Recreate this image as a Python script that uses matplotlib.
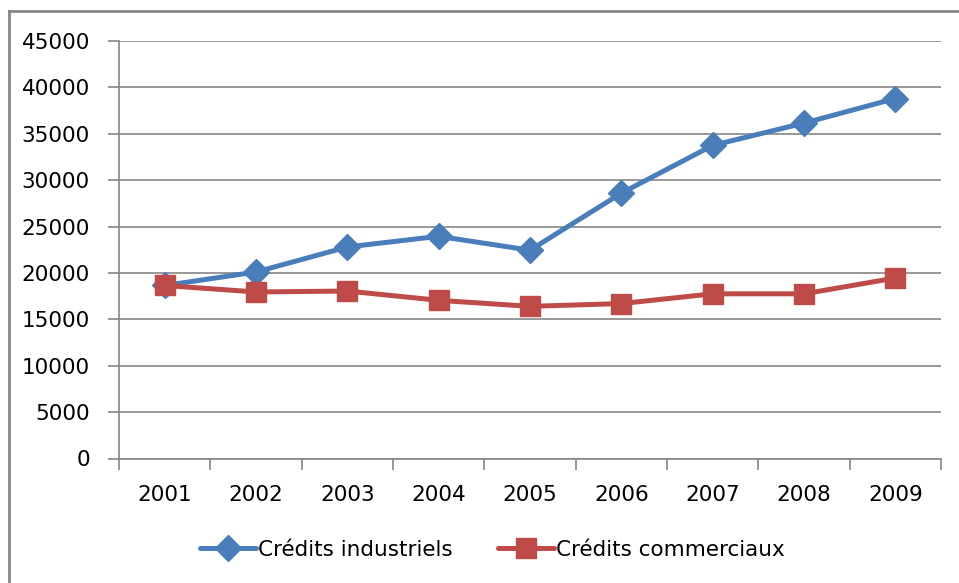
import matplotlib
matplotlib.use("Agg")
import matplotlib.pyplot as plt
from matplotlib.lines import Line2D
import numpy as np

annees = ["2001", "2002", "2003", "2004", "2005", "2006", "2007", "2008", "2009"]
industriels = [18650, 20100, 22800, 23950, 22450, 28600, 33750, 36150, 38800]
commerciaux = [18650, 17950, 18050, 17050, 16400, 16700, 17750, 17750, 19450]

plt.rcParams['font.family'] = ['DejaVu Sans']
gris = "#868686"

fig = plt.figure(figsize=(9.59, 5.83), dpi=100)
ax = fig.add_axes([119/959, 1 - 458.5/583, (941 - 119)/959, (458.5 - 41)/583])

x = np.arange(len(annees))
ax.plot(x, industriels, color="#4A7EBB", lw=3.6, marker="D", ms=13,
        label="Crédits industriels", solid_capstyle="round")
ax.plot(x, commerciaux, color="#BE4B48", lw=3.6, marker="s", ms=15,
        label="Crédits commerciaux", solid_capstyle="round")

ax.set_xlim(-0.5, len(annees) - 0.5)
ax.set_ylim(0, 45000)
ax.set_yticks(np.arange(0, 45001, 5000))
ax.set_xticks(x)
ax.set_xticklabels(annees)
ax.set_xticks(np.arange(-0.5, len(annees)), minor=True)
ax.tick_params(axis="x", which="major", length=0, pad=19, labelsize=15.5)
ax.tick_params(axis="x", which="minor", length=8, color=gris, width=1.2)
ax.tick_params(axis="y", length=8, color=gris, width=1.2, pad=13, labelsize=15.5)
ax.grid(axis="y", color=gris, lw=1.2)
ax.set_axisbelow(True)
for s in ["top", "right"]:
    ax.spines[s].set_visible(False)
for s in ["left", "bottom"]:
    ax.spines[s].set_color(gris)
    ax.spines[s].set_linewidth(1.2)

fig.legend(loc="center", bbox_to_anchor=(492/959, 1 - 550/583), ncol=2,
           frameon=False, fontsize=15.5, handlelength=2.6, handletextpad=0.1,
           columnspacing=2.1)

# cadre gris autour du graphique
fig.add_artist(Line2D([9/959, 9/959], [0, 1 - 11/583], color=gris, lw=2, transform=fig.transFigure))
fig.add_artist(Line2D([9/959, 1], [1 - 11/583, 1 - 11/583], color=gris, lw=2, transform=fig.transFigure))

fig.savefig("out.png", dpi=100)
